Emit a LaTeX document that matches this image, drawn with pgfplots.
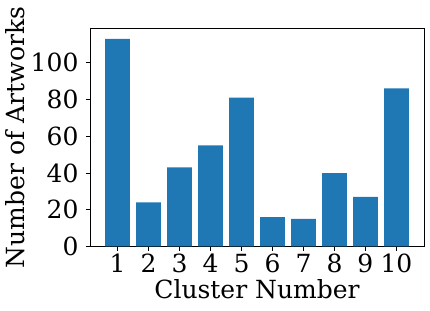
\documentclass[border=0pt]{standalone}
\usepackage{pgfplots}
\pgfplotsset{compat=1.18}
\usepackage{fontspec}
\setmainfont{DejaVu Serif}
\definecolor{mplblue}{HTML}{1F77B4}
\begin{document}
\fontsize{25}{29}\selectfont
\begin{tikzpicture}
\begin{axis}[
  scale only axis,
  width=334pt, height=218pt,
  xmin=0.11, xmax=10.89,
  ymin=0, ymax=118.65,
  xtick={1,2,3,4,5,6,7,8,9,10},
  ytick={0,20,40,60,80,100},
  tick align=outside,
  xtick pos=bottom, ytick pos=left,
  major tick length=4pt,
  tick style={black, line width=0.8pt},
  axis line style={line width=0.8pt},
  /pgf/number format/assume math mode=true,
  ticklabel style={font=\fontsize{25}{29}\selectfont},
  label style={font=\fontsize{25}{29}\selectfont},
  xlabel={Cluster Number},
  ylabel={Number of Artworks},
  xlabel style={yshift=10pt},
  ylabel style={yshift=-11pt},
  xticklabel style={yshift=5pt},
  yticklabel style={xshift=1pt},
]
\addplot[ybar, bar width=0.8, fill=mplblue, draw=none] coordinates {
  (1,113) (2,24) (3,43) (4,55) (5,81) (6,16) (7,15) (8,40) (9,27) (10,86)
};
\coordinate (sw) at (rel axis cs:0,0);
\end{axis}
\pgfresetboundingbox
\path[use as bounding box] ([shift={(-90pt,-63.5pt)}]sw) rectangle ++(430pt,310pt);
\end{tikzpicture}
\end{document}
